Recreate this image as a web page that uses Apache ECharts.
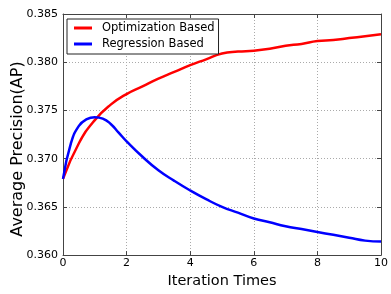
<!DOCTYPE html>
<html>
<head>
<meta charset="utf-8">
<script src="https://cdn.jsdelivr.net/npm/echarts@6/dist/echarts.min.js"></script>
<style>
html,body{margin:0;padding:0;background:#fff;}
#chart{width:391px;height:294px;}
</style>
</head>
<body>
<div id="chart"></div>
<script>
var seriesNames = ['Optimization Based', 'Regression Based'];
var xOpt = [0, 0.5, 1.0, 1.5, 2.0, 2.5, 3.0, 3.5, 4.0, 4.5, 5.0, 5.5, 6.0, 6.5, 7.0, 7.5, 8.0, 8.5, 9.0, 9.5, 10];
var yOpt = [0.3679, 0.3716, 0.3740, 0.3756, 0.3767, 0.3775, 0.3783, 0.3790, 0.3797, 0.3803, 0.3809, 0.3811, 0.3812, 0.3814, 0.3817, 0.3819, 0.3822, 0.3823, 0.3825, 0.3827, 0.3829];
var xReg = [0, 0.25, 0.5, 0.75, 1.0, 1.25, 1.5, 1.75, 2.0, 2.5, 3.0, 3.5, 4.0, 4.5, 5.0, 5.5, 6.0, 6.5, 7.0, 7.5, 8.0, 8.5, 9.0, 9.5, 10];
var yReg = [0.3679, 0.3716, 0.3734, 0.3741, 0.3743, 0.37415, 0.3736, 0.3727, 0.3718, 0.3702, 0.3688, 0.3677, 0.3667, 0.3658, 0.3650, 0.3644, 0.3638, 0.3634, 0.3630, 0.3627, 0.3624, 0.3621, 0.3618, 0.3615, 0.3614];
var xTicks = {min: 0, max: 10, interval: 2};
var yTicks = {min: 0.360, max: 0.385, interval: 0.005};
var xTitle = 'Iteration Times';
var yTitle = 'Average Precision(AP)';

function pairs(xs, ys) { return xs.map(function (x, i) { return [x, ys[i]]; }); }

var FONT = 'DejaVu Sans';
var frame = '#444';
var chart = echarts.init(document.getElementById('chart'), null, {renderer: 'canvas'});

function xAxisCfg(pos, labels) {
  return {
    type: 'value', position: pos, min: xTicks.min, max: xTicks.max, interval: xTicks.interval,
    axisLine: {show: true, onZero: false, lineStyle: {color: frame, width: 1}},
    axisTick: {show: true, inside: true, length: 4, lineStyle: {color: frame}},
    axisLabel: {show: labels, margin: 3, color: '#000', fontSize: 11, fontFamily: FONT},
    splitLine: {show: labels, lineStyle: {type: [1, 2], color: '#aaa', width: 1}},
    name: labels ? xTitle : '', nameLocation: 'middle', nameGap: 16,
    nameTextStyle: {fontSize: 14.5, color: '#000', fontFamily: FONT}
  };
}
function yAxisCfg(pos, labels) {
  return {
    type: 'value', position: pos, min: yTicks.min, max: yTicks.max, interval: yTicks.interval,
    axisLine: {show: true, onZero: false, lineStyle: {color: frame, width: 1}},
    axisTick: {show: true, inside: true, length: 4, lineStyle: {color: frame}},
    axisLabel: {show: labels, margin: 5, color: '#000', fontSize: 11, fontFamily: FONT,
      formatter: function (v) { return v.toFixed(3); }},
    splitLine: {show: labels, lineStyle: {type: [1, 2], color: '#aaa', width: 1}}
  };
}

chart.setOption({
  animation: false,
  backgroundColor: '#fff',
  grid: {left: 63, top: 14, width: 321, height: 250, containLabel: false},
  xAxis: [xAxisCfg('bottom', true), xAxisCfg('top', false)],
  yAxis: [yAxisCfg('left', true), yAxisCfg('right', false)],
  legend: {
    data: seriesNames, orient: 'vertical', left: 67, top: 19,
    backgroundColor: '#fff', borderColor: '#222', borderWidth: 1, borderRadius: 0,
    padding: [2, 4, 3, 7], itemWidth: 18, itemHeight: 3, itemGap: 2, icon: 'rect',
    textStyle: {fontSize: 11.5, lineHeight: 14, color: '#000', fontFamily: FONT, padding: [0, 0, 0, 5]}
  },
  graphic: [{
    type: 'text', x: 18, y: 149, rotation: Math.PI / 2,
    style: {text: yTitle, fontSize: 16, fontFamily: FONT, fill: '#000', align: 'center', verticalAlign: 'middle'}
  }],
  series: [
    {name: seriesNames[0], type: 'line', xAxisIndex: 0, yAxisIndex: 0, data: pairs(xOpt, yOpt),
      smooth: 0.5, showSymbol: false, symbol: 'none', lineStyle: {color: '#ff0000', width: 2.5}, itemStyle: {color: '#ff0000'}},
    {name: seriesNames[1], type: 'line', xAxisIndex: 0, yAxisIndex: 0, data: pairs(xReg, yReg),
      smooth: 0.5, showSymbol: false, symbol: 'none', lineStyle: {color: '#0000ff', width: 2.5}, itemStyle: {color: '#0000ff'}}
  ]
});
</script>
</body>
</html>
